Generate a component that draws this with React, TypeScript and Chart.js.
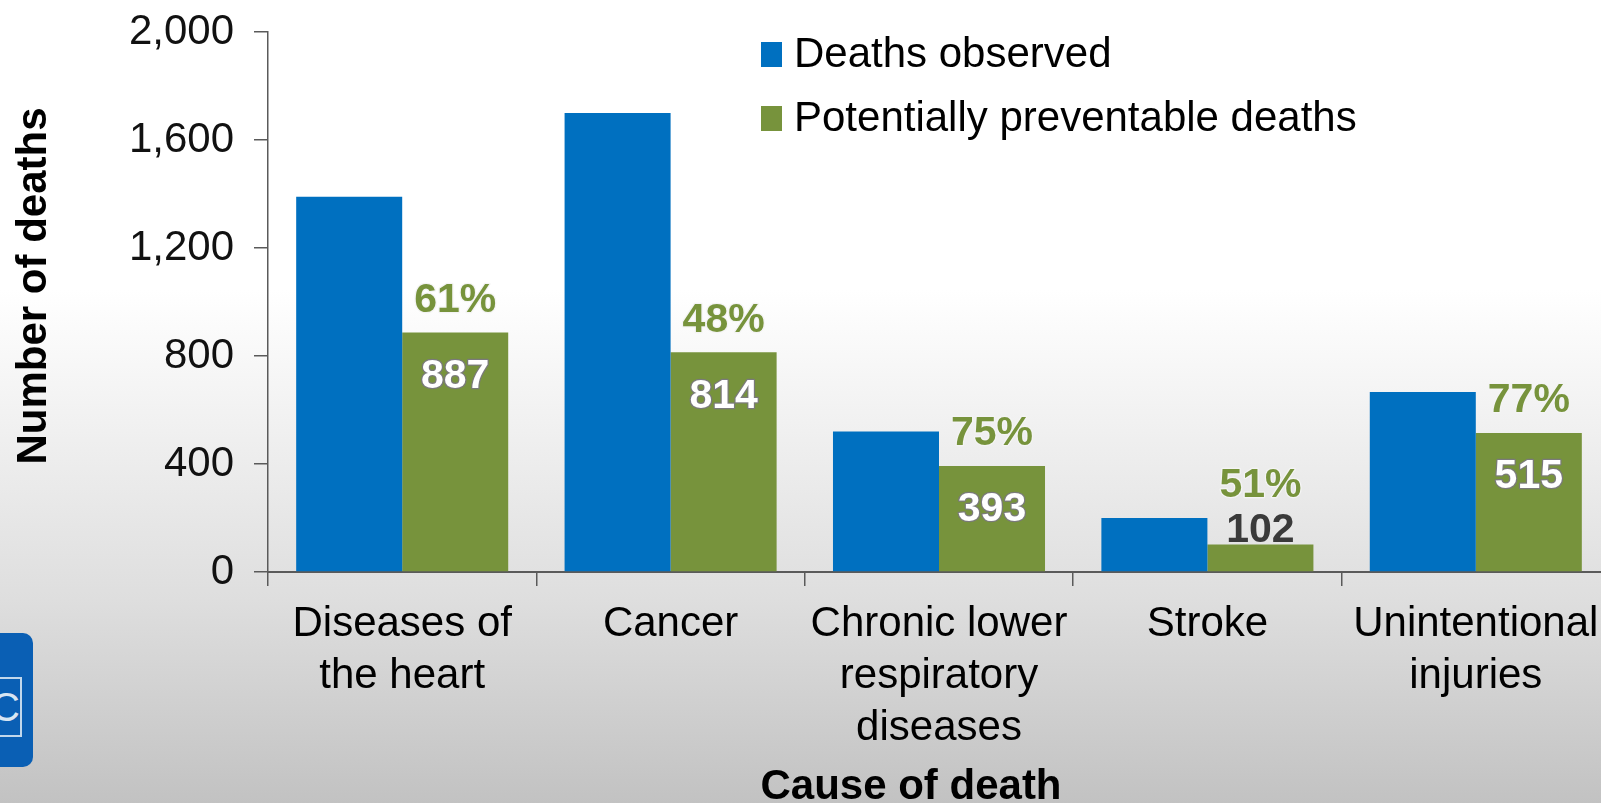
import React, { useEffect, useRef } from "react";
import { Chart, registerables } from "chart.js";

Chart.register(...registerables);

// ---- Data ----
const CATEGORIES: (string | string[])[] = [
  ["Diseases of", "the heart"],
  "Cancer",
  ["Chronic lower", "respiratory", "diseases"],
  "Stroke",
  ["Unintentional", "injuries"],
];
const SERIES_NAMES = ["Deaths observed", "Potentially preventable deaths"];
const DEATHS_OBSERVED = [1390, 1700, 520, 200, 667];
const PREVENTABLE_DEATHS = [887, 814, 393, 102, 515];
const PREVENTABLE_PCT = ["61%", "48%", "75%", "51%", "77%"];
const Y_TICK_LABELS = ["0", "400", "800", "1,200", "1,600", "2,000"];
const Y_AXIS_TITLE = "Number of deaths";
const X_AXIS_TITLE = "Cause of death";

// ---- Styles ----
const FONT = "'Liberation Sans', Arial, Helvetica, sans-serif";
const BLUE = "#0070C0";
const GREEN = "#77933C";
const AXIS_COLOR = "#5a5a5a";

const barLabelsPlugin = {
  id: "barLabels",
  afterDatasetsDraw(chart: any) {
    const ctx = chart.ctx;
    const meta = chart.getDatasetMeta(1);
    ctx.save();
    ctx.font = `bold 41px ${FONT}`;
    ctx.textAlign = "center";
    ctx.textBaseline = "middle";
    ctx.lineJoin = "round";
    meta.data.forEach((bar: any, i: number) => {
      const x = bar.x;
      const top = bar.y;
      const h = bar.base - bar.y;
      const value = String(PREVENTABLE_DEATHS[i]);
      let pctY = top - 32;
      if (h > 60) {
        ctx.lineWidth = 2.5;
        ctx.strokeStyle = "#7a7a7a";
        ctx.strokeText(value, x, top + 44);
        ctx.fillStyle = "#ffffff";
        ctx.fillText(value, x, top + 44);
      } else {
        ctx.fillStyle = "#3a3a3a";
        ctx.fillText(value, x, top - 14);
        pctY = top - 59;
      }
      ctx.lineWidth = 2.5;
      ctx.strokeStyle = "#f4f4f4";
      ctx.strokeText(PREVENTABLE_PCT[i], x, pctY);
      ctx.fillStyle = GREEN;
      ctx.fillText(PREVENTABLE_PCT[i], x, pctY);
    });
    ctx.restore();
  },
};

const legendAndTitlesPlugin = {
  id: "legendAndTitles",
  afterDraw(chart: any) {
    const ctx = chart.ctx;
    ctx.save();
    // Legend
    ctx.font = `42px ${FONT}`;
    ctx.textAlign = "left";
    ctx.textBaseline = "alphabetic";
    chart.data.datasets.forEach((ds: any, i: number) => {
      const rowBase = 67 + i * 64;
      ctx.fillStyle = ds.backgroundColor;
      ctx.fillRect(761, rowBase - 25, 21, 25);
      ctx.fillStyle = "#000000";
      ctx.fillText(ds.label, 794, rowBase);
    });
    // Y axis title
    ctx.font = `bold 42px ${FONT}`;
    ctx.fillStyle = "#000000";
    ctx.translate(46, 286);
    ctx.rotate(-Math.PI / 2);
    ctx.textAlign = "center";
    ctx.fillText(Y_AXIS_TITLE, 0, 0);
    ctx.restore();
    // X axis title
    ctx.save();
    ctx.font = `bold 42px ${FONT}`;
    ctx.fillStyle = "#000000";
    ctx.textAlign = "center";
    ctx.textBaseline = "alphabetic";
    ctx.fillText(X_AXIS_TITLE, 911, 799);
    ctx.restore();
  },
};

function ChartView() {
  const ref = useRef<HTMLCanvasElement | null>(null);
  useEffect(() => {
    if (!ref.current) return;
    const chart = new Chart(ref.current, {
      type: "bar",
      data: {
        labels: CATEGORIES as any,
        datasets: [
          { label: SERIES_NAMES[0], data: DEATHS_OBSERVED, backgroundColor: BLUE },
          { label: SERIES_NAMES[1], data: PREVENTABLE_DEATHS, backgroundColor: GREEN },
        ],
      },
      options: {
        animation: false,
        responsive: true,
        maintainAspectRatio: false,
        layout: { padding: { top: 32, right: 2, left: 0, bottom: 0 } },
        datasets: { bar: { categoryPercentage: 0.79, barPercentage: 1.0 } },
        plugins: { legend: { display: false }, tooltip: { enabled: false }, title: { display: false } },
        scales: {
          x: {
            afterFit(scale: any) {
              scale.height = 231;
              scale.paddingLeft = 0;
              scale.paddingRight = 0;
            },
            grid: {
              display: true,
              drawOnChartArea: false,
              drawTicks: true,
              tickLength: 14,
              color: AXIS_COLOR,
              lineWidth: 1.5,
              offset: true,
            },
            border: { display: true, color: AXIS_COLOR, width: 2 },
            ticks: {
              font: { family: FONT, size: 42, lineHeight: 52 / 42 },
              color: "#000000",
              padding: 12,
              maxRotation: 0,
              autoSkip: false,
            },
          },
          y: {
            min: 0,
            max: 2000,
            afterFit(scale: any) {
              scale.width = 268;
              scale.paddingTop = 0;
              scale.paddingBottom = 0;
            },
            grid: {
              display: true,
              drawOnChartArea: false,
              drawTicks: true,
              tickLength: 14,
              color: AXIS_COLOR,
              lineWidth: 1.5,
            },
            border: { display: true, color: AXIS_COLOR, width: 1.5 },
            ticks: {
              stepSize: 400,
              font: { family: FONT, size: 42 },
              color: "#111111",
              padding: 20,
              callback: (_v: any, i: number) => Y_TICK_LABELS[i],
            },
          },
        },
      },
      plugins: [barLabelsPlugin, legendAndTitlesPlugin],
    });
    return () => chart.destroy();
  }, []);
  return <canvas ref={ref} style={{ display: "block" }} />;
}

export default function App() {
  useEffect(() => {
    document.body.style.overflow = "hidden";
    document.documentElement.style.overflow = "hidden";
  }, []);
  return (
    <div
      style={{
        position: "fixed",
        left: 0,
        top: 0,
        width: 1612,
        height: 803,
        background:
          "linear-gradient(to bottom, #ffffff 0px, #ffffff 290px, #dedede 600px, #c2c2c2 803px)",
      }}
    >
      <div style={{ position: "absolute", left: 0, top: 0, width: 1612, height: 803 }}>
        <ChartView />
      </div>
      <div
        style={{
          position: "absolute",
          left: 0,
          top: 633,
          width: 33,
          height: 134,
          background: "#0a5fb4",
          borderRadius: "0 10px 10px 0",
          overflow: "hidden",
        }}
      >
        <div
          style={{
            position: "absolute",
            left: -22,
            top: 44,
            width: 40,
            height: 56,
            border: "2px solid rgba(255,255,255,0.75)",
            color: "rgba(255,255,255,0.85)",
            fontFamily: FONT,
            fontSize: 40,
            lineHeight: "56px",
            textAlign: "right",
          }}
        >
          C
        </div>
      </div>
    </div>
  );
}
